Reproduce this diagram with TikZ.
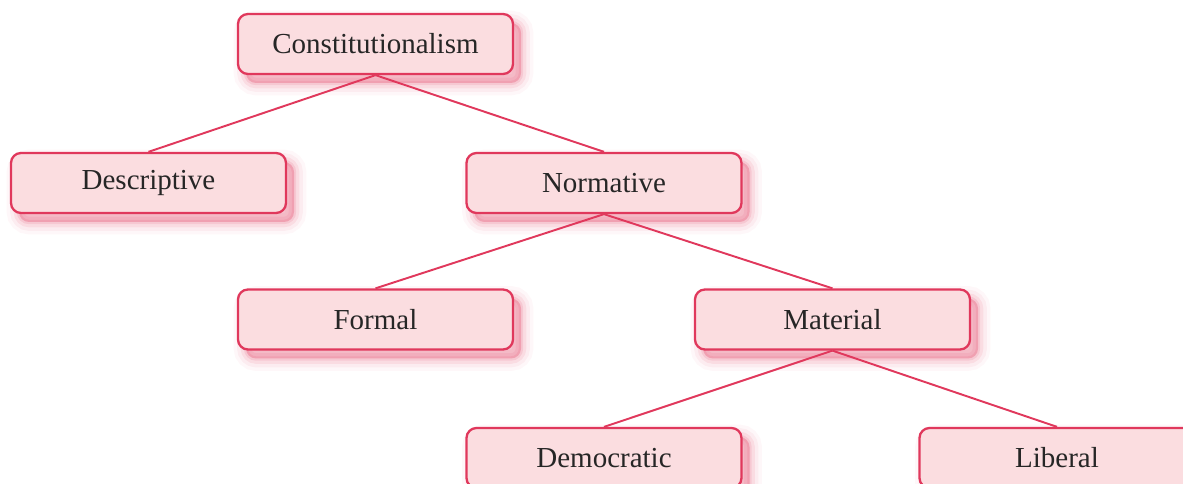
\documentclass[tikz,border=0pt]{standalone}
\usepackage{fontspec}
\setmainfont{Liberation Serif}
\usepackage{tikz}
\usetikzlibrary{positioning}
\definecolor{rosefill}{HTML}{FBDDE0}
\definecolor{roseline}{HTML}{E0385C}

\begin{document}
\begin{tikzpicture}[box/.style={draw=roseline, fill=rosefill, line width=1.3pt,
			rounded corners=0.2cm, minimum width=5.5cm, minimum height=1.2cm,
			text=black!85, font=\fontsize{16.5}{20}\selectfont,
			preaction={draw=roseline, fill=roseline, line width=14pt, opacity=0.04,
				transform canvas={xshift=0.16cm, yshift=-0.18cm}},
			preaction={draw=roseline, fill=roseline, line width=10pt, opacity=0.06,
				transform canvas={xshift=0.16cm, yshift=-0.18cm}},
			preaction={draw=roseline, fill=roseline, line width=6pt, opacity=0.09,
				transform canvas={xshift=0.16cm, yshift=-0.18cm}},
			preaction={draw=roseline, fill=roseline, line width=2.5pt, opacity=0.12,
				transform canvas={xshift=0.16cm, yshift=-0.18cm}}},
			link/.style={draw=roseline, line width=1.1pt}]

			\useasboundingbox (0,0) rectangle (23.66,-9.68);

			\node[box] (const) at (7.51,-0.88) {Constitutionalism};
			\node[box] (desc) at (2.97,-3.66) {Descriptive};
			\node[box] (norm) at (12.08,-3.66) {Normative};
			\node[box] (form) at (7.51,-6.39) {Formal};
			\node[box] (mat) at (16.65,-6.39) {Material};
			\node[box] (dem) at (12.08,-9.16) {Democratic};
			\node[box] (lib) at (21.14,-9.16) {Liberal};

			\draw[link] (const.south) -- (desc.north);
			\draw[link] (const.south) -- (norm.north);
			\draw[link] (norm.south) -- (form.north);
			\draw[link] (norm.south) -- (mat.north);
			\draw[link] (mat.south) -- (dem.north);
			\draw[link] (mat.south) -- (lib.north);
		\end{tikzpicture}
\end{document}
